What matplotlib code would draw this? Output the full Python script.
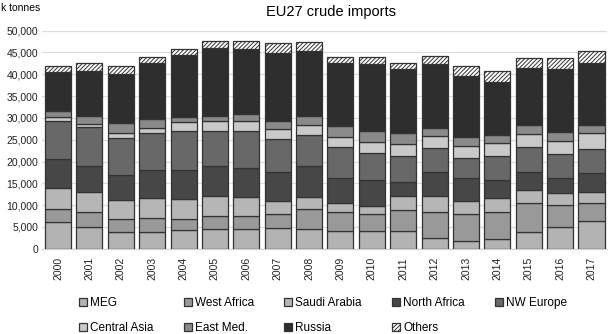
import numpy as np
import matplotlib
matplotlib.use("Agg")
import matplotlib.pyplot as plt

# Data (k tonnes)
years = [str(y) for y in range(2000, 2018)]
series_names = ["MEG", "West Africa", "Saudi Arabia", "North Africa", "NW Europe",
                "Central Asia", "East Med.", "Russia", "Others"]

meg = [6200, 4900, 3910, 3910, 4290, 4520, 4520, 4830, 4520, 4140, 4140, 4140, 2530, 1840, 2150, 3910, 5060, 6360]
west_africa = [2830, 3600, 2900, 3060, 2450, 3060, 3060, 3130, 4510, 4360, 3740, 4740, 5810, 6120, 6350, 6650, 4970, 4050]
saudi_arabia = [4970, 4580, 4360, 4740, 4660, 4590, 4360, 2980, 2910, 1910, 1990, 3290, 3830, 2980, 3210, 2910, 2670, 2520]
north_africa = [6500, 5970, 5740, 6340, 6650, 6880, 6650, 6580, 7030, 5890, 5890, 3130, 5500, 5200, 4050, 4050, 3440, 4360]
nw_europe = [8870, 8790, 8410, 8570, 9030, 8030, 8490, 7570, 7110, 7110, 6270, 5970, 5360, 4590, 5510, 5740, 5590, 5580]
central_asia = [920, 690, 1300, 1150, 2060, 2290, 2290, 2290, 2220, 2290, 2530, 2750, 2830, 2830, 2900, 3050, 3050, 3600]
east_med = [1380, 1990, 2140, 1910, 1000, 1070, 1530, 1990, 2140, 2450, 2440, 2450, 1750, 1990, 1920, 2070, 1920, 1910]
russia = [8790, 10320, 11320, 13000, 14300, 15680, 14840, 15600, 14990, 14530, 15370, 14680, 14760, 14070, 12230, 13000, 14450, 14300]
others = [1450, 1690, 1830, 1370, 1450, 1600, 1980, 2300, 2070, 1370, 1530, 1530, 1830, 2290, 2520, 2290, 2520, 2750]

series = [meg, west_africa, saudi_arabia, north_africa, nw_europe,
          central_asia, east_med, russia, others]
colores = ["#b3b3b3", "#999999", "#b6b6b6", "#474747", "#686868",
           "#c9c9c9", "#8a8a8a", "#2e2e2e", "#ffffff"]

plt.rcParams["font.family"] = ["Liberation Sans", "DejaVu Sans"]
plt.rcParams["hatch.color"] = "#333333"
plt.rcParams["hatch.linewidth"] = 0.7

fig = plt.figure(figsize=(6.08, 3.34), dpi=100)
ax = fig.add_axes([42.3 / 608, 1 - 248.7 / 334, (607.2 - 42.3) / 608, (248.7 - 30.7) / 334])

x = np.arange(len(years))
bottom = np.zeros(len(years))
handles = {}
for nombre, valores, color in zip(series_names, series, colores):
    vals = np.array(valores, dtype=float)
    hatch = "////////" if nombre == "Others" else None
    b = ax.bar(x, vals, width=0.83, bottom=bottom, color=color,
               edgecolor="#333333", linewidth=0.9, hatch=hatch, label=nombre, zorder=3)
    handles[nombre] = b
    bottom += vals

ax.set_xlim(-0.5, len(years) - 0.5)
ax.set_ylim(0, 50000)
ax.set_yticks(np.arange(0, 50001, 5000))
ax.set_yticklabels([f"{v:,}" for v in range(0, 50001, 5000)], fontsize=7.5, color="#222222")
ax.set_xticks(x)
ax.set_xticklabels(years, rotation=90, fontsize=7.5, color="#222222")
ax.tick_params(length=0, pad=6)
ax.tick_params(axis="y", pad=3)
ax.grid(axis="y", color="#dcdcdc", linewidth=0.9, zorder=0)
for s in ["top", "right", "left"]:
    ax.spines[s].set_visible(False)
ax.spines["bottom"].set_color("#d0d0d0")

fig.text(331 / 608, 1 - 12 / 334, "EU27 crude imports", ha="center", va="center", fontsize=10.5)
fig.text(1 / 608, 1 - 8 / 334, "k tonnes", ha="left", va="center", fontsize=7.5)

# legend is filled column by column, so reorder to read row by row
orden = ["MEG", "Central Asia", "West Africa", "East Med.", "Saudi Arabia",
         "Russia", "North Africa", "Others", "NW Europe"]
fig.legend([handles[n] for n in orden], orden, loc="upper left", ncol=5,
           bbox_to_anchor=(79 / 608, 1 - 297 / 334), frameon=False, fontsize=8.5,
           handlelength=0.7, handleheight=0.7, handletextpad=0.25,
           columnspacing=2.55, labelspacing=1.1, borderaxespad=0, borderpad=0)

fig.savefig("out.png", dpi=100)
